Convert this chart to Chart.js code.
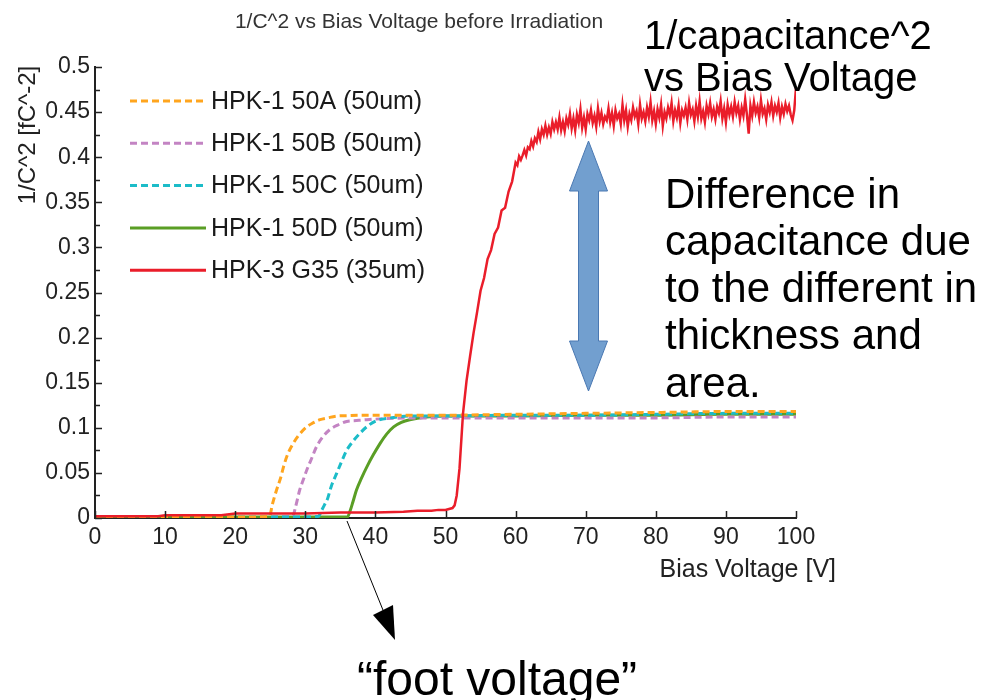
<!DOCTYPE html>
<html>
<head>
<meta charset="utf-8">
<script src="https://cdn.jsdelivr.net/npm/chart.js@4"></script>
<style>
  html, body { margin: 0; padding: 0; background: #fff; }
  #wrap { width: 984px; height: 700px; }
</style>
</head>
<body>
<div id="wrap"><canvas id="grafico" width="984" height="700"></canvas></div>
<script>
// datos
const etiquetas = ['HPK-1 50A (50um)', 'HPK-1 50B (50um)', 'HPK-1 50C (50um)', 'HPK-1 50D (50um)', 'HPK-3 G35 (35um)'];

const voltA = [0, 5, 10, 15, 20, 24.9, 25.3, 25.9, 26.5, 26.9, 27.5, 28.3, 29.2, 30.2, 31.0, 32.1, 33.2, 34.5, 36, 38, 40, 45, 50, 60, 70, 80, 90, 100];
const valA  = [0.001, 0.001, 0.001, 0.001, 0.001, 0.002, 0.015, 0.031, 0.045, 0.057, 0.071, 0.083, 0.093, 0.101, 0.105, 0.109, 0.111, 0.113, 0.1135, 0.114, 0.114, 0.114, 0.114, 0.115, 0.116, 0.117, 0.118, 0.118];

const voltB = [0, 5, 10, 15, 20, 25, 28.2, 28.6, 29.2, 29.7, 30.2, 30.9, 31.6, 32.5, 33.5, 34.6, 35.9, 37.3, 38.8, 41, 45, 50, 60, 70, 80, 90, 100];
const valB  = [0.001, 0.001, 0.001, 0.001, 0.001, 0.001, 0.002, 0.012, 0.031, 0.042, 0.053, 0.066, 0.079, 0.090, 0.098, 0.103, 0.107, 0.108, 0.109, 0.110, 0.111, 0.111, 0.111, 0.111, 0.111, 0.112, 0.112];

const voltC = [0, 5, 10, 15, 20, 25, 30, 31.9, 32.3, 32.7, 33.2, 33.7, 34.5, 35.2, 35.9, 36.8, 37.8, 38.9, 40.2, 42.1, 45, 50, 60, 70, 80, 90, 100];
const valC  = [0.001, 0.001, 0.001, 0.001, 0.001, 0.001, 0.001, 0.002, 0.008, 0.014, 0.022, 0.035, 0.050, 0.063, 0.075, 0.085, 0.094, 0.102, 0.108, 0.111, 0.113, 0.113, 0.114, 0.114, 0.115, 0.116, 0.116];

const voltD = [0, 5, 10, 15, 20, 25, 30, 36, 36.4, 36.8, 37.3, 38, 38.8, 39.7, 40.7, 41.6, 42.6, 43.7, 44.9, 47.3, 50, 60, 70, 80, 90, 100];
const valD  = [0.001, 0.001, 0.001, 0.001, 0.001, 0.001, 0.001, 0.001, 0.008, 0.018, 0.031, 0.044, 0.057, 0.070, 0.083, 0.093, 0.101, 0.106, 0.109, 0.112, 0.113, 0.113, 0.114, 0.114, 0.115, 0.115];

const voltG = [0, 5, 9, 10, 18, 20, 25, 30, 35, 40, 44, 46, 48, 49, 50, 50.5, 51, 51.3, 51.6,
  52, 52.5, 53, 53.5, 54, 54.5, 55, 55.5, 56, 56.5, 57, 57.5, 58, 58.5, 59, 59.5,
  60, 60.25, 60.5, 60.75, 61, 61.25, 61.5, 61.75, 62, 62.25, 62.5, 62.75, 63, 63.25, 63.5, 63.75,
  64, 64.25, 64.5, 64.75, 65, 65.25, 65.5, 65.75, 66, 66.25, 66.5, 66.75, 67, 67.25, 67.5, 67.75,
  68, 68.25, 68.5, 68.75, 69, 69.25, 69.5, 69.75, 70, 70.25, 70.5, 70.75, 71, 71.25, 71.5, 71.75,
  72, 72.25, 72.5, 72.75, 73, 73.25, 73.5, 73.75, 74, 74.25, 74.5, 74.75, 75, 75.25, 75.5, 75.75,
  76, 76.25, 76.5, 76.75, 77, 77.25, 77.5, 77.75, 78, 78.25, 78.5, 78.75, 79, 79.25, 79.5, 79.75,
  80, 80.25, 80.5, 80.75, 81, 81.25, 81.5, 81.75, 82, 82.25, 82.5, 82.75, 83, 83.25, 83.5, 83.75,
  84, 84.25, 84.5, 84.75, 85, 85.25, 85.5, 85.75, 86, 86.25, 86.5, 86.75, 87, 87.25, 87.5, 87.75,
  88, 88.25, 88.5, 88.75, 89, 89.25, 89.5, 89.75, 90, 90.25, 90.5, 90.75, 91, 91.25, 91.5, 91.75,
  92, 92.25, 92.5, 92.75, 93, 93.25, 93.5, 93.75, 94, 94.25, 94.5, 94.75, 95, 95.25, 95.5, 95.75,
  96, 96.25, 96.5, 96.75, 97, 97.25, 97.5, 97.75, 98, 98.25, 98.5, 98.75, 99, 99.25, 99.5, 99.75, 100];
const valG  = [0.002, 0.002, 0.002, 0.003, 0.003, 0.005, 0.005, 0.005, 0.006, 0.006, 0.007, 0.008, 0.008, 0.009, 0.009, 0.010, 0.011, 0.014, 0.025,
  0.055, 0.116, 0.152, 0.179, 0.205, 0.228, 0.252, 0.266, 0.287, 0.297, 0.315, 0.322, 0.341, 0.344, 0.362, 0.373,
  0.394, 0.391, 0.401, 0.397, 0.402, 0.408, 0.402, 0.411, 0.409, 0.418, 0.412, 0.421, 0.417, 0.428, 0.420, 0.431,
  0.425, 0.435, 0.425, 0.433, 0.426, 0.439, 0.431, 0.439, 0.431, 0.444, 0.430, 0.439, 0.429, 0.443, 0.436, 0.448,
  0.432, 0.443, 0.430, 0.447, 0.438, 0.453, 0.433, 0.444, 0.431, 0.448, 0.441, 0.452, 0.438, 0.446, 0.434, 0.454,
  0.440, 0.449, 0.437, 0.445, 0.441, 0.454, 0.439, 0.449, 0.435, 0.452, 0.443, 0.448, 0.437, 0.458, 0.441, 0.452,
  0.434, 0.448, 0.441, 0.455, 0.445, 0.451, 0.437, 0.458, 0.443, 0.450, 0.440, 0.455, 0.445, 0.461, 0.441, 0.451,
  0.437, 0.453, 0.444, 0.458, 0.435, 0.450, 0.443, 0.455, 0.447, 0.460, 0.440, 0.452, 0.444, 0.457, 0.438, 0.452,
  0.446, 0.455, 0.442, 0.460, 0.447, 0.453, 0.440, 0.457, 0.445, 0.462, 0.443, 0.451, 0.439, 0.457, 0.448, 0.460,
  0.445, 0.453, 0.442, 0.456, 0.449, 0.462, 0.443, 0.454, 0.439, 0.458, 0.447, 0.456, 0.445, 0.461, 0.449, 0.457,
  0.442, 0.455, 0.446, 0.464, 0.447, 0.426, 0.457, 0.446, 0.461, 0.449, 0.456, 0.444, 0.463, 0.448, 0.454, 0.442,
  0.458, 0.450, 0.461, 0.446, 0.457, 0.450, 0.460, 0.444, 0.456, 0.448, 0.459, 0.451, 0.457, 0.447, 0.441, 0.452, 0.477];

const colores = ['#ffa51e', '#c384c3', '#1cbcc8', '#5a9e25', '#ea1d2a'];
const guiones = [[7, 4], [7, 4], [7, 4], [], []];
const grosores = [3, 3, 3, 3, 2.5];
const ordenDibujo = [1, 3, 2, 4, 0];
const series = [[voltA, valA], [voltB, valB], [voltC, valC], [voltD, valD], [voltG, valG]];

const ticksX = [0, 10, 20, 30, 40, 50, 60, 70, 80, 90, 100];
const ticksY = [0, 0.05, 0.1, 0.15, 0.2, 0.25, 0.3, 0.35, 0.4, 0.45, 0.5];

const fuente = "'Liberation Sans', Arial, sans-serif";

function puntos(vs, cs) {
    return vs.map((v, i) => ({ x: v, y: cs[i] }));
}

// marcas de eje hacia dentro, leyenda y anotaciones
const pluginDecoracion = {
    id: 'decoracion',
    afterDraw(chart) {
        const ctx = chart.ctx;
        const sx = chart.scales.x;
        const sy = chart.scales.y;
        const area = chart.chartArea;
        ctx.save();
        ctx.strokeStyle = '#222';
        ctx.lineWidth = 1.5;
        ctx.beginPath();
        ticksX.forEach(v => {
            const px = Math.round(sx.getPixelForValue(v)) + 0.5;
            ctx.moveTo(px, area.bottom);
            ctx.lineTo(px, area.bottom - 7);
        });
        ticksY.forEach((v, i) => {
            const py = Math.round(sy.getPixelForValue(v)) + 0.5;
            ctx.moveTo(area.left, py);
            ctx.lineTo(area.left + 7, py);
            if (i < ticksY.length - 1) {
                const pm = Math.round(sy.getPixelForValue(v + 0.025)) + 0.5;
                ctx.moveTo(area.left, pm);
                ctx.lineTo(area.left + 5, pm);
            }
        });
        ctx.stroke();

        // leyenda
        ctx.textBaseline = 'middle';
        ctx.textAlign = 'left';
        ctx.font = '25px ' + fuente;
        chart.data.datasets.forEach((ds, i) => {
            const y = 101 + i * 42.3;
            ctx.strokeStyle = ds.borderColor;
            ctx.lineWidth = 3;
            ctx.setLineDash(ds.borderDash || []);
            ctx.beginPath();
            ctx.moveTo(130, y);
            ctx.lineTo(206, y);
            ctx.stroke();
            ctx.setLineDash([]);
            ctx.fillStyle = '#1a1a1a';
            ctx.fillText(ds.label, 211, y + 1);
        });

        // titulos
        ctx.fillStyle = '#333';
        ctx.textAlign = 'center';
        ctx.font = '21px ' + fuente;
        ctx.fillText('1/C^2 vs Bias Voltage before Irradiation', 419, 22);
        ctx.fillStyle = '#222';
        ctx.font = '25px ' + fuente;
        ctx.textAlign = 'right';
        ctx.fillText('Bias Voltage [V]', 836, 570);
        ctx.save();
        ctx.translate(28, 135);
        ctx.rotate(-Math.PI / 2);
        ctx.textAlign = 'center';
        ctx.font = '24px ' + fuente;
        ctx.fillText('1/C^2 [fC^-2]', 0, 0);
        ctx.restore();

        // anotaciones
        ctx.fillStyle = '#000';
        ctx.textAlign = 'left';
        ctx.font = '40px ' + fuente;
        ctx.fillText('1/capacitance^2', 644, 38);
        ctx.fillText('vs Bias Voltage', 644, 80);
        ctx.font = '42px ' + fuente;
        ['Difference in', 'capacitance due', 'to the different in', 'thickness and', 'area.'].forEach((t, i) => {
            ctx.fillText(t, 665, 196 + i * 47.3);
        });
        ctx.textAlign = 'center';
        ctx.font = '48px ' + fuente;
        ctx.fillText('\u201cfoot voltage\u201d', 497, 682);

        // flecha fina
        ctx.strokeStyle = '#000';
        ctx.lineWidth = 1;
        ctx.beginPath();
        ctx.moveTo(347, 521);
        ctx.lineTo(387, 620);
        ctx.stroke();
        ctx.beginPath();
        ctx.moveTo(395, 640);
        ctx.lineTo(373, 615);
        ctx.lineTo(393, 605);
        ctx.closePath();
        ctx.fill();

        // flecha doble azul
        ctx.fillStyle = '#729fcf';
        ctx.strokeStyle = '#4a78b2';
        ctx.lineWidth = 1;
        ctx.beginPath();
        ctx.moveTo(588.5, 141);
        ctx.lineTo(607.5, 191);
        ctx.lineTo(598.5, 191);
        ctx.lineTo(598.5, 341);
        ctx.lineTo(607.5, 341);
        ctx.lineTo(588.5, 391);
        ctx.lineTo(569.5, 341);
        ctx.lineTo(578.5, 341);
        ctx.lineTo(578.5, 191);
        ctx.lineTo(569.5, 191);
        ctx.closePath();
        ctx.fill();
        ctx.stroke();
        ctx.restore();
    }
};

new Chart(document.getElementById('grafico').getContext('2d'), {
    type: 'line',
    data: {
        datasets: series.map((s, i) => ({
            label: etiquetas[i],
            data: puntos(s[0], s[1]),
            borderColor: colores[i],
            borderDash: guiones[i],
            borderWidth: grosores[i],
            pointRadius: 0,
            fill: false,
            order: ordenDibujo[i],
            cubicInterpolationMode: i === 4 ? 'default' : 'monotone',
            tension: 0
        }))
    },
    options: {
        responsive: false,
        animation: false,
        layout: { padding: { left: 0, top: 67, right: 188, bottom: 0 } },
        plugins: {
            legend: { display: false },
            title: { display: false },
            tooltip: { enabled: false }
        },
        scales: {
            x: {
                type: 'linear',
                min: 0,
                max: 100,
                afterFit: s => { s.height = 182; },
                afterBuildTicks: s => { s.ticks = ticksX.map(v => ({ value: v })); },
                ticks: { color: '#222', font: { family: fuente, size: 23 }, padding: 6, maxRotation: 0 },
                grid: { display: false, drawTicks: false },
                border: { color: '#222', width: 2 }
            },
            y: {
                min: 0,
                max: 0.5,
                afterFit: s => { s.width = 95; },
                afterBuildTicks: s => { s.ticks = ticksY.map(v => ({ value: v })); },
                ticks: { color: '#222', font: { family: fuente, size: 23 }, padding: 5, callback: v => String(+v.toFixed(2)) },
                grid: { display: false, drawTicks: false },
                border: { color: '#222', width: 2 }
            }
        }
    },
    plugins: [pluginDecoracion]
});
</script>
</body>
</html>
